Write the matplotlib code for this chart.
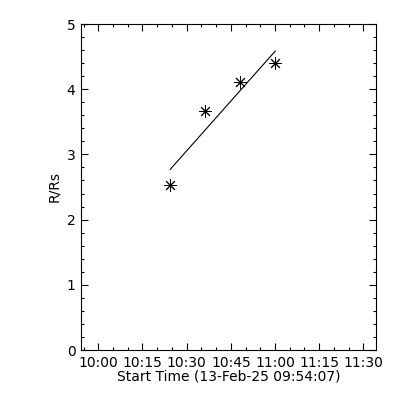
import numpy as np
import matplotlib
matplotlib.use("Agg")
import matplotlib.pyplot as plt
from matplotlib.ticker import MultipleLocator

# minutes after 10:00 (start time 09:54:07)
t_min = [24.4, 36.2, 48.1, 60.1]
r_rs = [2.53, 3.66, 4.11, 4.40]
tick_mins = [0, 15, 30, 45, 60, 75, 90]
tick_labels = ["10:00", "10:15", "10:30", "10:45", "11:00", "11:15", "11:30"]
x_start = -(5 + 53 / 60.0)

# linear fit of height vs time
fit = np.polyfit(t_min, r_rs, 1)
fit_x = np.array([t_min[0], t_min[-1]])
fit_y = np.polyval(fit, fit_x)

fig = plt.figure(figsize=(4, 4), dpi=100)
ax = fig.add_axes([0.2025, 0.125, 0.7375, 0.815])

ax.plot(t_min, r_rs, linestyle="none", marker=(8, 2, 0), markersize=9,
        color="black", markeredgewidth=0.7)
ax.plot(fit_x, fit_y, color="black", linewidth=0.8)

ax.set_xlim(x_start, 94.3)
ax.set_ylim(0, 5)
ax.set_xticks(tick_mins)
ax.set_xticklabels(tick_labels)
ax.xaxis.set_minor_locator(MultipleLocator(5))
ax.yaxis.set_major_locator(MultipleLocator(1))
ax.yaxis.set_minor_locator(MultipleLocator(0.2))

ax.tick_params(which="both", direction="in", top=True, right=True,
               labelsize=10, width=0.8, colors="black")
ax.tick_params(which="major", length=5, pad=4)
ax.tick_params(which="minor", length=2.5)
for s in ax.spines.values():
    s.set_linewidth(0.8)

ax.set_xlabel("Start Time (13-Feb-25 09:54:07)", fontsize=10, labelpad=0)
ax.set_ylabel("R/Rs", fontsize=10, labelpad=4)

fig.savefig("out.png", dpi=100, facecolor="white")
